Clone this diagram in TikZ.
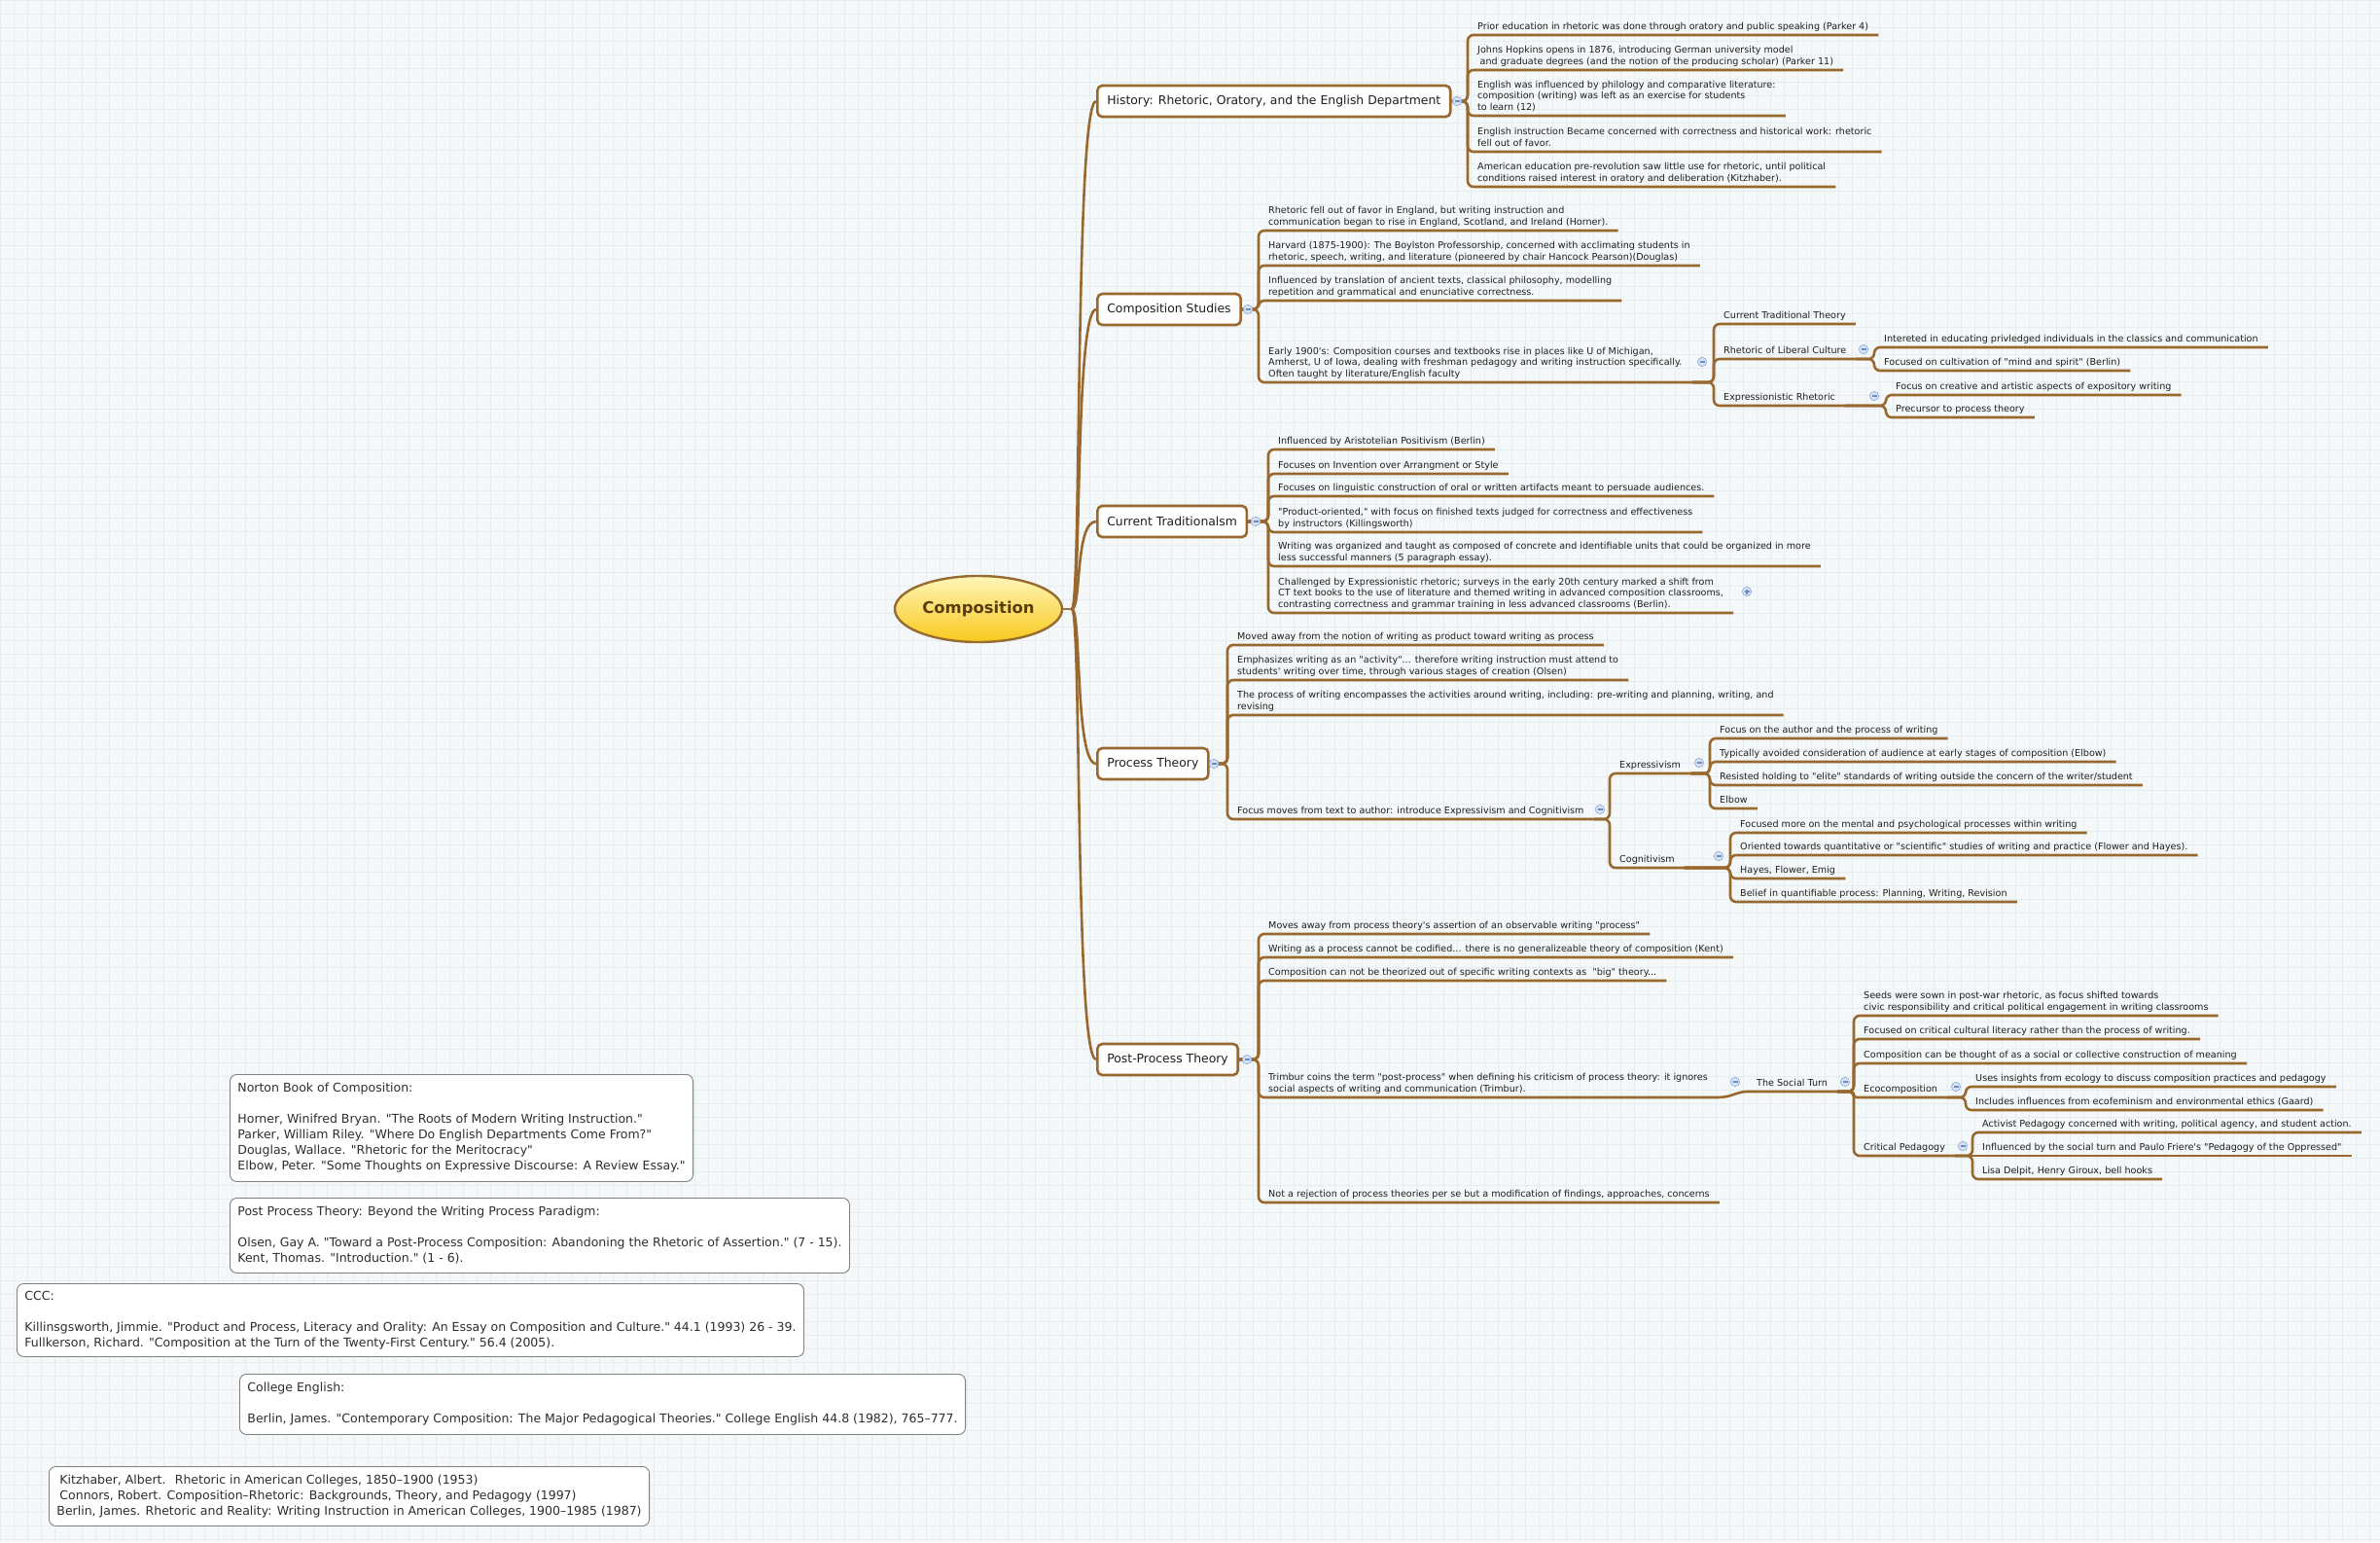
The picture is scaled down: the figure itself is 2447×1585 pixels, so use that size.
\documentclass[tikz,border=0pt]{standalone}
\usepackage{fontspec}
\setmainfont{DejaVu Sans}[Ligatures=TeXOff]
\usetikzlibrary{shapes.geometric,calc}
\definecolor{bgc}{RGB}{245,248,249}
\definecolor{gridc}{RGB}{229,237,240}
\definecolor{brn}{RGB}{152,104,46}
\definecolor{stubc}{RGB}{150,115,75}
\definecolor{txt}{RGB}{30,30,30}
\definecolor{reftxt}{RGB}{45,45,45}
\definecolor{icf}{RGB}{214,226,246}
\definecolor{icd}{RGB}{150,176,222}
\definecolor{ics}{RGB}{110,140,196}
\definecolor{yla}{RGB}{255,246,185}
\definecolor{ylb}{RGB}{248,200,28}
\definecolor{rootb}{RGB}{150,108,48}
\definecolor{roott}{RGB}{92,60,14}
\newcommand{\leaffont}{\fontsize{9.6}{11.6}\selectfont}
\newcommand{\topicfont}{\fontsize{12.4}{14}\selectfont}
\newcommand{\reffont}{\fontsize{12.5}{16}\selectfont}
\newcommand{\rootfont}{\fontsize{16.4}{18}\selectfont\bfseries}
\tikzset{
  leaf/.style={anchor=south west, inner xsep=10pt, inner ysep=3.3pt, text depth=2.2pt, align=left, font=\leaffont, text=txt},
  topic/.style={anchor=west, draw=brn, line width=2.6pt, fill=white, rounded corners=5pt, inner xsep=10pt, minimum height=32pt, font=\topicfont, text=txt},
  rootnode/.style={ellipse, minimum width=172pt, minimum height=68pt, inner sep=0pt, top color=yla, bottom color=ylb, draw=rootb, line width=2.4pt, font=\rootfont, text=roott},
  conn/.style={draw=brn, line width=2.6pt, rounded corners=6pt},
  trunkline/.style={draw=brn, line width=2.6pt},
  stubline/.style={draw=stubc, line width=1.8pt},
  refbox/.style={anchor=north west, draw=black!50, line width=0.9pt, fill=white, rounded corners=7pt, inner xsep=8pt, inner ysep=0pt, align=left, font=\reffont, text=reftxt},
  icon/.style={circle, minimum size=9.4pt, inner sep=0pt, fill=icf, draw=icd, line width=0.7pt,
    path picture={\draw[ics, line width=1.1pt] ([xshift=-2.5pt]path picture bounding box.center) -- ([xshift=2.5pt]path picture bounding box.center);}},
  iconplus/.style={icon, path picture={\draw[ics, line width=1.1pt] ([xshift=-2.5pt]path picture bounding box.center) -- ([xshift=2.5pt]path picture bounding box.center) ([yshift=-2.5pt]path picture bounding box.center) -- ([yshift=2.5pt]path picture bounding box.center);}},
}
\begin{document}
\begin{tikzpicture}[x=1pt, y=-1pt]
\useasboundingbox (0,0) rectangle (2447,1585);
\fill[bgc] (0,0) rectangle (2447,1585);
\foreach \gx in {0,14,...,2447} \draw[gridc, line width=0.6pt] (\gx,0) -- (\gx,1585);
\foreach \gy in {0,14,...,1585} \draw[gridc, line width=0.6pt] (0,\gy) -- (2447,\gy);

% ---------- root and main topics ----------
\node[rootnode] (root) at (1006,626) {Composition};
\coordinate (trunk) at (1102,626);
\node[topic] (hist) at (1127,104) {History: Rhetoric, Oratory, and the English Department};
\node[topic] (cs) at (1127,318) {Composition Studies};
\node[topic] (ct) at (1127,536) {Current Traditionalsm};
\node[topic] (pt) at (1127,785) {Process Theory};
\node[topic] (pp) at (1127,1089) {Post-Process Theory};

% ---------- History ----------
\node[leaf] (h1) at (1509,36) {Prior education in rhetoric was done through oratory and public speaking (Parker 4)};
\node[leaf] (h2) at (1509,72) {Johns Hopkins opens in 1876, introducing German university model\\\hspace*{2.5pt}and graduate degrees (and the notion of the producing scholar) (Parker 11)};
\node[leaf] (h3) at (1509,119) {English was influenced by philology and comparative literature:\\composition (writing) was left as an exercise for students\\to learn (12)};
\node[leaf] (h4) at (1509,156) {English instruction Became concerned with correctness and historical work: rhetoric\\fell out of favor.};
\node[leaf] (h5) at (1509,192) {American education pre-revolution saw little use for rhetoric, until political\\conditions raised interest in oratory and deliberation (Kitzhaber).};

% ---------- Composition Studies ----------
\node[leaf] (c1) at (1294,237) {Rhetoric fell out of favor in England, but writing instruction and\\communication began to rise in England, Scotland, and Ireland (Horner).};
\node[leaf] (c2) at (1294,273) {Harvard (1875-1900): The Boylston Professorship, concerned with acclimating students in\\rhetoric, speech, writing, and literature (pioneered by chair Hancock Pearson)(Douglas)};
\node[leaf] (c3) at (1294,309) {Influenced by translation of ancient texts, classical philosophy, modelling\\repetition and grammatical and enunciative correctness.};
\node[leaf] (c4) at (1294,393) {Early 1900's: Composition courses and textbooks rise in places like U of Michigan,\\Amherst, U of Iowa, dealing with freshman pedagogy and writing instruction specifically.\\Often taught by literature/English faculty};
\node[leaf] (s1) at (1762,333) {Current Traditional Theory};
\node[leaf] (s2) at (1762,369) {Rhetoric of Liberal Culture};
\node[leaf] (s3) at (1762,417) {Expressionistic Rhetoric};
\node[leaf] (s2a) at (1927,357) {Intereted in educating privledged individuals in the classics and communication};
\node[leaf] (s2b) at (1927,381) {Focused on cultivation of "mind and spirit" (Berlin)};
\node[leaf] (s3a) at (1939,406) {Focus on creative and artistic aspects of expository writing};
\node[leaf] (s3b) at (1939,429) {Precursor to process theory};

% ---------- Current Traditionalism ----------
\node[leaf] (t1) at (1304,462) {Influenced by Aristotelian Positivism (Berlin)};
\node[leaf] (t2) at (1304,487) {Focuses on Invention over Arrangment or Style};
\node[leaf] (t3) at (1304,510) {Focuses on linguistic construction of oral or written artifacts meant to persuade audiences.};
\node[leaf] (t4) at (1304,547) {"Product-oriented," with focus on finished texts judged for correctness and effectiveness\\by instructors (Killingsworth)};
\node[leaf] (t5) at (1304,582) {Writing was organized and taught as composed of concrete and identifiable units that could be organized in more\\less successful manners (5 paragraph essay).};
\node[leaf] (t6) at (1304,630) {Challenged by Expressionistic rhetoric; surveys in the early 20th century marked a shift from\\CT text books to the use of literature and themed writing in advanced composition classrooms,\\contrasting correctness and grammar training in less advanced classrooms (Berlin).};

% ---------- Process Theory ----------
\node[leaf] (p1) at (1262,663) {Moved away from the notion of writing as product toward writing as process};
\node[leaf] (p2) at (1262,699) {Emphasizes writing as an "activity"... therefore writing instruction must attend to\\students' writing over time, through various stages of creation (Olsen)};
\node[leaf] (p3) at (1262,735) {The process of writing encompasses the activities around writing, including: pre-writing and planning, writing, and\\revising};
\node[leaf] (p4) at (1262,842) {Focus moves from text to author: introduce Expressivism and Cognitivism};
\node[leaf] (ex) at (1655,795) {Expressivism};
\node[leaf] (cg) at (1655,892) {Cognitivism};
\node[leaf] (e1) at (1758,759) {Focus on the author and the process of writing};
\node[leaf] (e2) at (1758,783) {Typically avoided consideration of audience at early stages of composition (Elbow)};
\node[leaf] (e3) at (1758,807) {Resisted holding to "elite" standards of writing outside the concern of the writer/student};
\node[leaf] (e4) at (1758,831) {Elbow};
\node[leaf] (g1) at (1779,856) {Focused more on the mental and psychological processes within writing};
\node[leaf] (g2) at (1779,879) {Oriented towards quantitative or "scientific" studies of writing and practice (Flower and Hayes).};
\node[leaf] (g3) at (1779,903) {Hayes, Flower, Emig};
\node[leaf] (g4) at (1779,927) {Belief in quantifiable process: Planning, Writing, Revision};

% ---------- Post-Process Theory ----------
\node[leaf] (q1) at (1294,960) {Moves away from process theory's assertion of an observable writing "process"};
\node[leaf] (q2) at (1294,984) {Writing as a process cannot be codified... there is no generalizeable theory of composition (Kent)};
\node[leaf] (q3) at (1294,1008) {Composition can not be theorized out of specific writing contexts as \ "big" theory...};
\node[leaf] (q4) at (1294,1128) {Trimbur coins the term "post-process" when defining his criticism of process theory: it ignores\\social aspects of writing and communication (Trimbur).};
\node[leaf] (q5) at (1294,1236) {Not a rejection of process theories per se but a modification of findings, approaches, concerns};
\node[leaf] (st) at (1796,1122) {The Social Turn};
\node[leaf] (r1) at (1906,1044) {Seeds were sown in post-war rhetoric, as focus shifted towards\\civic responsibility and critical political engagement in writing classrooms};
\node[leaf] (r2) at (1906,1068) {Focused on critical cultural literacy rather than the process of writing.};
\node[leaf] (r3) at (1906,1093) {Composition can be thought of as a social or collective construction of meaning};
\node[leaf] (eco) at (1906,1128) {Ecocomposition};
\node[leaf] (cp) at (1906,1188) {Critical Pedagogy};
\node[leaf] (k1) at (2021,1117) {Uses insights from ecology to discuss composition practices and pedagogy};
\node[leaf] (k2) at (2021,1141) {Includes influences from ecofeminism and environmental ethics (Gaard)};
\node[leaf] (m1) at (2028,1164) {Activist Pedagogy concerned with writing, political agency, and student action.};
\node[leaf] (m2) at (2028,1188) {Influenced by the social turn and Paulo Friere's "Pedagogy of the Oppressed"};
\node[leaf] (m3) at (2028,1212) {Lisa Delpit, Henry Giroux, bell hooks};

% ---------- connectors ----------
\draw[stubline] (root.east) -- (trunk);
\foreach \t in {hist,cs,ct,pt,pp}
  \draw[trunkline] (trunk) .. controls +(10,0) and +(-22,0) .. (\t.west);
\foreach \c in {h1,h2,h3,h4,h5} \draw[conn] (hist.east) -| (\c.south west) -- (\c.south east);
\foreach \c in {c1,c2,c3,c4} \draw[conn] (cs.east) -| (\c.south west) -- (\c.south east);
\foreach \c in {s1,s2,s3} \draw[conn] (c4.south east) -| (\c.south west) -- (\c.south east);
\foreach \c in {s2a,s2b} \draw[conn] (s2.south east) -| (\c.south west) -- (\c.south east);
\foreach \c in {s3a,s3b} \draw[conn] (s3.south east) -| (\c.south west) -- (\c.south east);
\foreach \c in {t1,t2,t3,t4,t5,t6} \draw[conn] (ct.east) -| (\c.south west) -- (\c.south east);
\foreach \c in {p1,p2,p3,p4} \draw[conn] (pt.east) -| (\c.south west) -- (\c.south east);
\foreach \c in {ex,cg} \draw[conn] (p4.south east) -| (\c.south west) -- (\c.south east);
\foreach \c in {e1,e2,e3,e4} \draw[conn] (ex.south east) -| (\c.south west) -- (\c.south east);
\foreach \c in {g1,g2,g3,g4} \draw[conn] (cg.south east) -| (\c.south west) -- (\c.south east);
\foreach \c in {q1,q2,q3,q4,q5} \draw[conn] (pp.east) -| (\c.south west) -- (\c.south east);
\draw[trunkline] (q4.south east) .. controls +(14,0) and +(-10,0) .. (st.south west) -- (st.south east);
\foreach \c in {r1,r2,r3,cp} \draw[conn] (st.south east) -| (\c.south west) -- (\c.south east);
\draw[conn, rounded corners=3pt] (st.south east) -| (eco.south west) -- (eco.south east);
\foreach \c in {k1,k2} \draw[conn] (eco.south east) -| (\c.south west) -- (\c.south east);
\foreach \c in {m1,m3} \draw[conn] (cp.south east) -| (\c.south west) -- (\c.south east);
\draw[conn] (cp.south east) -- (m2.south east);

% ---------- collapse icons ----------
\node[icon] (ih) at (1498,104) {};
\node[icon] (ics) at (1283,318) {};
\node[icon] (ic4) at (1750,372) {};
\node[icon] (is2) at (1916,359) {};
\node[icon] (is3) at (1927,407) {};
\node[icon] (ict) at (1291,536) {};
\node[iconplus] (it6) at (1796,608) {};
\node[icon] (ipt) at (1248,785) {};
\node[icon] (ip4) at (1645,832) {};
\node[icon] (iex) at (1747,784) {};
\node[icon] (icg) at (1767,880) {};
\node[icon] (ipp) at (1282,1089) {};
\node[icon] (iq4) at (1784,1112) {};
\node[icon] (ist) at (1897,1112) {};
\node[icon] (ieco) at (2011,1117) {};
\node[icon] (icp) at (2018,1178) {};

% ---------- reference boxes ----------
\node[refbox, minimum height=110pt] (b1) at (236,1104) {Norton Book of Composition:\\[16pt]Horner, Winifred Bryan. "The Roots of Modern Writing Instruction."\\Parker, William Riley. "Where Do English Departments Come From?"\\Douglas, Wallace. "Rhetoric for the Meritocracy"\\Elbow, Peter. "Some Thoughts on Expressive Discourse: A Review Essay."};
\node[refbox, minimum height=77pt] (b2) at (236,1231) {Post Process Theory: Beyond the Writing Process Paradigm:\\[16pt]Olsen, Gay A. "Toward a Post-Process Composition: Abandoning the Rhetoric of Assertion." (7 - 15).\\Kent, Thomas. "Introduction." (1 - 6).};
\node[refbox, minimum height=75pt] (b3) at (17,1319) {CCC:\\[16pt]Killinsgsworth, Jimmie. "Product and Process, Literacy and Orality: An Essay on Composition and Culture." 44.1 (1993) 26 - 39.\\Fullkerson, Richard. "Composition at the Turn of the Twenty-First Century." 56.4 (2005).};
\node[refbox, minimum height=62pt] (b4) at (246,1412) {College English:\\[16pt]Berlin, James. "Contemporary Composition: The Major Pedagogical Theories." College English 44.8 (1982), 765–777.};
\node[refbox, minimum height=61pt] (b5) at (50,1507) {\hspace*{3pt}Kitzhaber, Albert. \ Rhetoric in American Colleges, 1850–1900 (1953)\\\hspace*{3pt}Connors, Robert. Composition–Rhetoric: Backgrounds, Theory, and Pedagogy (1997)\\Berlin, James. Rhetoric and Reality: Writing Instruction in American Colleges, 1900–1985 (1987)};
\end{tikzpicture}
\end{document}
